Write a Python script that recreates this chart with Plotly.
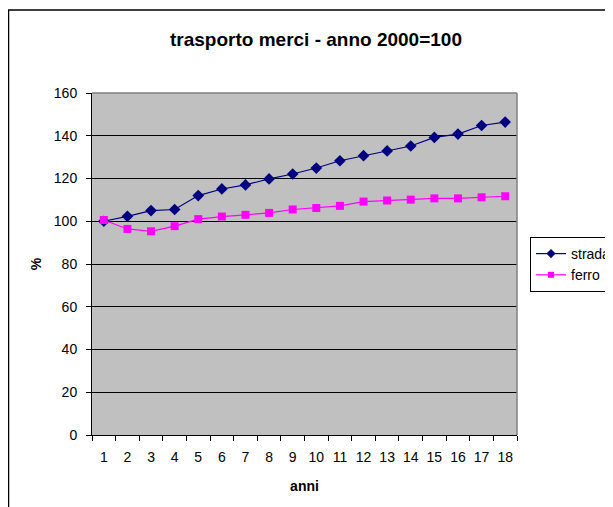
import plotly.graph_objects as go

# data
anni = [str(i) for i in range(1, 19)]
strada = [100, 102.3, 105, 105.5, 112, 115.1, 117, 119.8, 122.1,
          124.9, 128.3, 130.7, 132.9, 135.2, 139.2, 140.8, 144.8, 146.4]
ferro = [100.6, 96.4, 95.3, 97.7, 101, 102.2, 103, 103.9, 105.5,
         106.2, 107.2, 109.2, 109.7, 110.1, 110.7, 110.7, 111.2, 111.7]
y_ticks = [0, 20, 40, 60, 80, 100, 120, 140, 160]

FONT = 'Liberation Sans, Arial, sans-serif'
series = [
    ('strada', strada, '#000080', 'diamond', 9, 7),
    ('ferro', ferro, '#FF00FF', 'square', 8, 6),
]

fig = go.Figure()

for name, vals, color, symbol, size, legend_size in series:
    fig.add_trace(go.Scatter(
        x=anni, y=vals, name=name, mode='lines+markers', showlegend=False,
        line=dict(color=color, width=1.2),
        marker=dict(symbol=symbol, size=size, color=color),
    ))
    # legend-only entry with the smaller legend marker
    fig.add_trace(go.Scatter(
        x=[None], y=[None], name=name, mode='lines+markers',
        line=dict(color=color, width=1.2),
        marker=dict(symbol=symbol, size=legend_size, color=color),
    ))

# page body adds an 8px offset, so positions are shifted by it
OFF = 8
W, H = 613, 507
L, T = 92 - OFF, 93 - OFF
R, B = W - (517 - OFF), H - (435 - OFF)
pw, ph = W - L - R, H - T - B

# outer chart border (extends past the cropped window)
fig.add_shape(type='rect', xref='paper', yref='paper',
              x0=(8.5 - OFF - L) / pw, x1=2, y0=-1, y1=(H - B - (10 - OFF)) / ph,
              line=dict(color='black', width=1.5), fillcolor='rgba(0,0,0,0)',
              layer='below')
# gray top/right border of plot area
fig.add_shape(type='line', xref='paper', yref='paper', x0=0, x1=1, y0=1, y1=1,
              line=dict(color='#808080', width=1.5))
fig.add_shape(type='line', xref='paper', yref='paper', x0=1, x1=1, y0=0, y1=1,
              line=dict(color='#808080', width=1.5))

fig.update_layout(
    width=W, height=H,
    margin=dict(l=L, r=R, t=T, b=B, autoexpand=False),
    paper_bgcolor='white',
    plot_bgcolor='#C0C0C0',
    font=dict(family=FONT, size=14, color='black'),
    title=dict(text='<b>trasporto merci - anno 2000=100</b>',
               x=(316 - OFF - L) / pw, xref='paper', xanchor='center',
               y=1 - (39 - OFF) / H, yanchor='middle',
               font=dict(size=19, family=FONT, color='black')),
    xaxis=dict(
        type='category', range=[-0.5, 17.5], tickangle=0,
        title=dict(text='<b>anni</b>', font=dict(size=14), standoff=17),
        showgrid=False, showline=True, linecolor='black', linewidth=1,
        ticks='outside', tickson='boundaries', ticklen=5, tickcolor='black',
        zeroline=False, ticklabelstandoff=9,
    ),
    yaxis=dict(
        range=[0, 160], tickvals=y_ticks,
        title=dict(text='<b>%</b>', font=dict(size=14), standoff=8),
        showgrid=True, gridcolor='black', gridwidth=1,
        showline=True, linecolor='black', linewidth=1,
        ticks='outside', ticklen=5, tickcolor='black', zeroline=False,
        ticklabelstandoff=6,
    ),
    legend=dict(
        x=(530 - OFF - L) / pw, y=(H - B - (237 - OFF)) / ph,
        xanchor='left', yanchor='top',
        bordercolor='black', borderwidth=1, bgcolor='white',
        font=dict(size=14), tracegroupgap=0,
    ),
    showlegend=True,
)

fig.write_html("out.html")
